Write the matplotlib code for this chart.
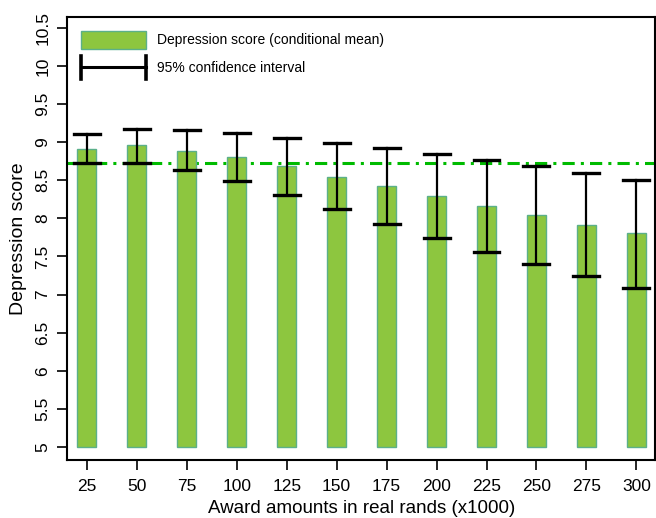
import matplotlib.pyplot as plt
from matplotlib.patches import Patch
from matplotlib.lines import Line2D
from matplotlib.legend_handler import HandlerBase

plt.rcParams['font.family'] = ['Liberation Sans', 'DejaVu Sans']

awards = [25, 50, 75, 100, 125, 150, 175, 200, 225, 250, 275, 300]
mean_score = [8.91, 8.96, 8.88, 8.80, 8.69, 8.54, 8.43, 8.29, 8.16, 8.04, 7.91, 7.81]
ci_low = [8.73, 8.73, 8.64, 8.49, 8.31, 8.12, 7.93, 7.74, 7.56, 7.40, 7.24, 7.09]
ci_high = [9.11, 9.17, 9.16, 9.12, 9.06, 8.99, 8.92, 8.84, 8.77, 8.69, 8.60, 8.50]
baseline = 8.73
yticks = [5, 5.5, 6, 6.5, 7, 7.5, 8, 8.5, 9, 9.5, 10, 10.5]


class HandlerCI(HandlerBase):
    # horizontal bar with vertical end caps, like the original legend key
    def create_artists(self, legend, orig_handle, xdescent, ydescent,
                       width, height, fontsize, trans):
        yc = height / 2 - ydescent
        h = Line2D([-xdescent, width - xdescent], [yc, yc], color='black', lw=2.2)
        c1 = Line2D([-xdescent, -xdescent], [yc - 8, yc + 8], color='black', lw=2.6)
        c2 = Line2D([width - xdescent, width - xdescent], [yc - 8, yc + 8], color='black', lw=2.6)
        for a in (h, c1, c2):
            a.set_transform(trans)
        return [h, c1, c2]


fig = plt.figure(figsize=(6.56, 5.18), dpi=100)
ax = fig.add_axes([0.102, 0.112, 0.897, 0.855])

bar_bottom = 5
heights = [m - bar_bottom for m in mean_score]
ax.bar(awards, heights, bottom=bar_bottom, width=9.6, color='#8dc63f',
       edgecolor='#5bb08a', linewidth=1.0, zorder=3)

ax.axhline(baseline, color='#00bb00', linestyle=(0, (4, 2, 1, 2)), linewidth=2.2, zorder=2)

for x, lo, hi in zip(awards, ci_low, ci_high):
    ax.plot([x, x], [lo, hi], color='black', linewidth=1.6, zorder=4)
    ax.plot([x - 6.5, x + 6.5], [lo, lo], color='black', linewidth=2.4, zorder=4)
    ax.plot([x - 6.5, x + 6.5], [hi, hi], color='black', linewidth=2.4, zorder=4)

ax.set_xlim(15, 309.5)
ax.set_ylim(4.83, 10.64)
ax.set_xticks(awards)
ax.set_xticklabels([str(a) for a in awards], fontsize=12.5)
ax.set_yticks(yticks)
ax.set_yticklabels([f'{t:g}' for t in yticks], fontsize=12.5, rotation=90, va='center')
ax.tick_params(direction='out', length=7, width=1.2)
ax.tick_params(axis='x', pad=7)
ax.tick_params(axis='y', pad=5)
for s in ax.spines.values():
    s.set_linewidth(1.5)

ax.set_xlabel('Award amounts in real rands (x1000)', fontsize=13.5, labelpad=4)
ax.set_ylabel('Depression score', fontsize=14, labelpad=6)

ci_key = Line2D([0], [0], color='black')
handles = [Patch(facecolor='#8dc63f', edgecolor='#5bb08a'), ci_key]
ax.legend(handles, ['Depression score (conditional mean)', '95% confidence interval'],
          loc='upper left', frameon=False, fontsize=10, handlelength=4.7,
          handleheight=1.6, handletextpad=0.8, labelspacing=0.7,
          borderaxespad=0.6, handler_map={ci_key: HandlerCI()})

fig.savefig('out.png', dpi=100)
